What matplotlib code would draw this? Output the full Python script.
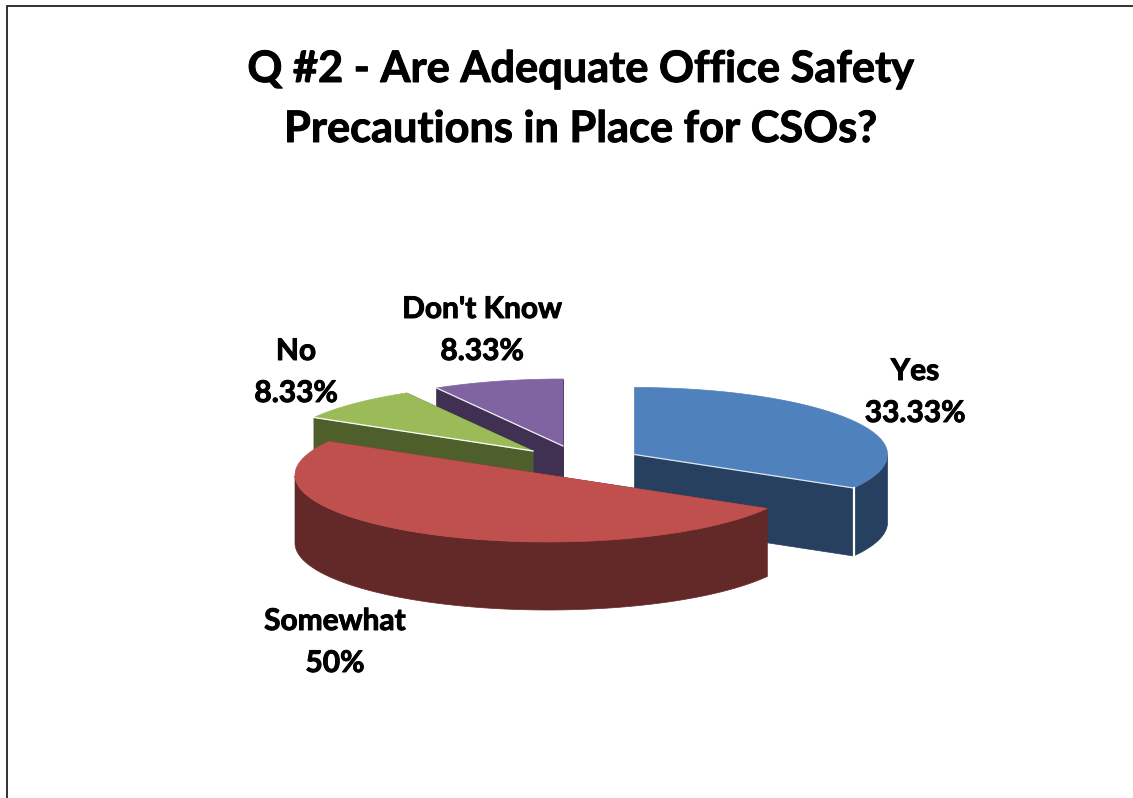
import numpy as np
import matplotlib
matplotlib.use("Agg")
import matplotlib.pyplot as plt
import matplotlib.patheffects as pe
from matplotlib.patches import Polygon

# ---- data ----
categories = ["Yes", "Somewhat", "No", "Don't Know"]
values = [33.33, 50, 8.33, 8.33]
title_lines = ["Q #2 - Are Adequate Office Safety", "Precautions in Place for CSOs?"]

# ---- style ----
top_colors = ["#4F81BD", "#C0504D", "#9BBB59", "#8064A2"]
side_colors = ["#27405F", "#632828", "#4F5F2C", "#403152"]
edge_colors = ["#DDE6F2", "#C0504D", "#FFFFFF", "#F2EEF6"]
apexes = [(634.5, 454.5), (548, 475), (533, 451), (563, 446)]
label_xy = [(915, 371, 413), (335, 621, 663), (296, 351, 393), (482, 309, 351)]
RX, RY, DEPTH = 253, 67, 68
draw_order = [3, 2, 0, 1]
heavy = [pe.withStroke(linewidth=0.7, foreground="black")]

plt.rcParams["font.family"] = ["Lato", "DejaVu Sans"]
fig = plt.figure(figsize=(11.33, 7.98), dpi=100, facecolor="white")
ax = fig.add_axes([0, 0, 1, 1])
ax.set_xlim(0, 1133)
ax.set_ylim(798, 0)
ax.axis("off")

ax.plot([6.5, 6.5, 1133], [798, 5.5, 5.5], color="#222222", lw=1.3, solid_joinstyle="miter", zorder=1)

fractions = np.array(values) / np.sum(values)
ends = np.cumsum(fractions) * 2 * np.pi
starts = ends - fractions * 2 * np.pi


def rim(i, theta):
    ax0, ay0 = apexes[i]
    return ax0 + RX * np.sin(theta), ay0 - RY * np.cos(theta)


z = 2
for i in draw_order:
    a0, a1 = starts[i], ends[i]
    th = np.linspace(a0, a1, 200)
    x, y = rim(i, th)
    cx, cy = apexes[i]
    # radial cut faces
    for a in (a0, a1):
        rx, ry = rim(i, a)
        ax.add_patch(Polygon([(cx, cy), (rx, ry), (rx, ry + DEPTH), (cx, cy + DEPTH)],
                             closed=True, fc=side_colors[i], ec=side_colors[i], lw=0.5, zorder=z))
    # outer wall: only the front half of the ellipse
    front = (th >= np.pi / 2) & (th <= 3 * np.pi / 2)
    if front.any():
        fx, fy = x[front], y[front]
        ax.fill(np.r_[fx, fx[::-1]], np.r_[fy, fy[::-1] + DEPTH],
                fc=side_colors[i], ec=side_colors[i], lw=0.5, zorder=z)
    # top face
    ax.fill(np.r_[cx, x], np.r_[cy, y], fc=top_colors[i], ec=top_colors[i], lw=0.5, zorder=z + 0.5)
    # thin light edge on the lower cut
    if i != 1:
        lower = a1 if i == 0 else a0
        rx, ry = rim(i, lower)
        ax.plot([cx, rx], [cy, ry], color=edge_colors[i], lw=0.9, zorder=z + 0.6)
    if i == 0:
        rx, ry = rim(i, a1)
        ax.plot([rx, rx], [ry, ry + DEPTH], color="white", lw=1.6, zorder=z + 0.6)
    z += 1

for cat, val, (lx, ly1, ly2) in zip(categories, values, label_xy):
    ax.text(lx, ly1, cat, ha="center", va="center", fontsize=21.5, fontweight="bold",
            color="black", zorder=20, path_effects=heavy)
    ax.text(lx, ly2, f"{val:g}%", ha="center", va="center", fontsize=21.5, fontweight="bold",
            color="black", zorder=20, path_effects=heavy)

for line, ty in zip(title_lines, (69, 129)):
    ax.text(581, ty, line, ha="center", va="center", fontsize=31.2, fontweight="bold",
            color="black", zorder=20, path_effects=heavy)

fig.savefig("out.png", dpi=100)
